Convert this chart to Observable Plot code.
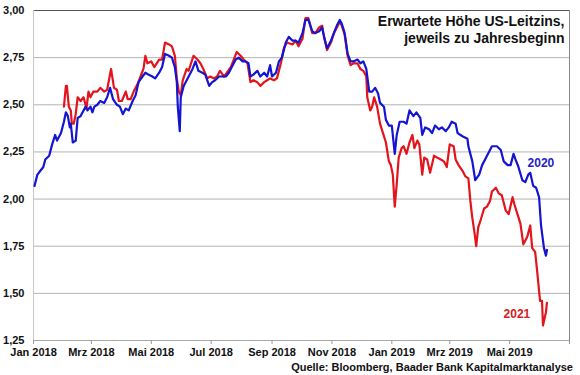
<!DOCTYPE html>
<html><head><meta charset="utf-8">
<script src="https://cdn.jsdelivr.net/npm/d3@7"></script>
<script src="https://cdn.jsdelivr.net/npm/@observablehq/plot@0.6"></script>
<style>
body{margin:0;background:#fff;}
#wrap{position:relative;width:580px;height:375px;font-family:"Liberation Sans",Arial,sans-serif;}
#caption{position:absolute;left:0;top:360px;width:573px;text-align:right;font-size:11px;font-weight:bold;line-height:14px;color:#111;}
</style></head><body>
<div id="wrap"><div id="chart"></div><div id="caption">Quelle: Bloomberg, Baader Bank Kapitalmarktanalyse</div></div>
<script>
const titleText = "Erwartete Höhe US-Leitzins,\njeweils zu Jahresbeginn";
const seriesNames = ["2020", "2021"];
const xDomain = ["2018-01-01", "2019-07-01"];
const yTicks = [1.25, 1.50, 1.75, 2.00, 2.25, 2.50, 2.75, 3.00];
const tickDates = ["2018-01-01","2018-03-01","2018-05-01","2018-07-01","2018-09-01","2018-11-01","2019-01-01","2019-03-01","2019-05-01","2019-07-01"];
const tickLabels = ["Jan 2018","Mrz 2018","Mai 2018","Jul 2018","Sep 2018","Nov 2018","Jan 2019","Mrz 2019","Mai 2019",""];

const dates2020 = ["2018-01-02","2018-01-05","2018-01-08","2018-01-11","2018-01-13","2018-01-17","2018-01-20","2018-01-23","2018-01-25","2018-01-29",
"2018-02-01","2018-02-03","2018-02-05","2018-02-07","2018-02-08","2018-02-10","2018-02-13","2018-02-15","2018-02-18","2018-02-21","2018-02-23","2018-02-25","2018-02-28",
"2018-03-02","2018-03-04","2018-03-07","2018-03-10","2018-03-14","2018-03-17","2018-03-20","2018-03-23","2018-03-27","2018-03-30",
"2018-04-02","2018-04-05","2018-04-08","2018-04-12","2018-04-15","2018-04-18","2018-04-22","2018-04-25","2018-04-28",
"2018-05-02","2018-05-05","2018-05-09","2018-05-12","2018-05-15","2018-05-19","2018-05-22","2018-05-25","2018-05-27","2018-05-28","2018-05-30","2018-05-31",
"2018-06-03","2018-06-07","2018-06-12","2018-06-15","2018-06-18","2018-06-22","2018-06-25","2018-06-29",
"2018-07-02","2018-07-05","2018-07-09","2018-07-12","2018-07-16","2018-07-19","2018-07-22","2018-07-26","2018-07-29",
"2018-08-02","2018-08-05","2018-08-08","2018-08-10","2018-08-13","2018-08-17","2018-08-20","2018-08-24","2018-08-27","2018-08-30",
"2018-09-01","2018-09-05","2018-09-08","2018-09-11","2018-09-15","2018-09-18","2018-09-22","2018-09-25","2018-09-28",
"2018-10-02","2018-10-05","2018-10-08","2018-10-12","2018-10-15","2018-10-19","2018-10-22","2018-10-24","2018-10-27","2018-10-31",
"2018-11-03","2018-11-06","2018-11-09","2018-11-11","2018-11-14","2018-11-17","2018-11-20","2018-11-23","2018-11-27","2018-11-30",
"2018-12-03","2018-12-06","2018-12-09","2018-12-12","2018-12-15","2018-12-18","2018-12-20","2018-12-24","2018-12-26","2018-12-29",
"2019-01-01","2019-01-04","2019-01-06","2019-01-09","2019-01-13","2019-01-16","2019-01-19","2019-01-23","2019-01-26","2019-01-30",
"2019-02-01","2019-02-04","2019-02-08","2019-02-11","2019-02-14","2019-02-18","2019-02-21","2019-02-25","2019-02-28",
"2019-03-03","2019-03-07","2019-03-09","2019-03-12","2019-03-15","2019-03-19","2019-03-20","2019-03-24","2019-03-27","2019-03-31",
"2019-04-03","2019-04-08","2019-04-13","2019-04-18","2019-04-22","2019-04-25","2019-04-29",
"2019-05-02","2019-05-05","2019-05-07","2019-05-10","2019-05-14","2019-05-17","2019-05-20","2019-05-22","2019-05-25","2019-05-28","2019-05-31",
"2019-06-02","2019-06-05","2019-06-07","2019-06-08"];
const values2020 = [2.07,2.13,2.15,2.17,2.21,2.23,2.29,2.34,2.31,2.35,
2.41,2.46,2.44,2.38,2.40,2.30,2.31,2.43,2.44,2.47,2.49,2.47,2.49,
2.46,2.49,2.50,2.52,2.51,2.54,2.59,2.53,2.50,2.49,
2.45,2.48,2.47,2.52,2.55,2.62,2.65,2.67,2.66,
2.65,2.64,2.67,2.70,2.77,2.76,2.75,2.70,2.62,2.49,2.36,2.54,
2.60,2.64,2.69,2.73,2.68,2.67,2.66,2.60,
2.62,2.63,2.65,2.65,2.65,2.67,2.70,2.74,2.75,
2.73,2.73,2.72,2.65,2.66,2.68,2.65,2.67,2.65,2.71,
2.65,2.67,2.73,2.75,2.83,2.86,2.84,2.84,2.83,
2.88,2.95,2.95,2.89,2.88,2.89,2.91,2.86,2.80,2.84,
2.88,2.92,2.95,2.93,2.88,2.77,2.73,2.73,2.74,2.72,
2.73,2.69,2.57,2.57,2.59,2.56,2.51,2.49,2.42,2.39,
2.39,2.24,2.34,2.41,2.41,2.40,2.47,2.44,2.46,2.43,
2.34,2.38,2.37,2.35,2.39,2.37,2.38,2.36,2.38,
2.41,2.40,2.35,2.34,2.33,2.32,2.28,2.20,2.10,2.13,
2.18,2.23,2.28,2.28,2.26,2.20,2.18,
2.18,2.24,2.21,2.17,2.10,2.09,2.13,2.14,2.07,2.06,2.01,
1.86,1.74,1.70,1.73];

const dates2021 = ["2018-02-01","2018-02-03","2018-02-04","2018-02-06","2018-02-08","2018-02-09","2018-02-11","2018-02-13","2018-02-15","2018-02-18","2018-02-21","2018-02-24","2018-02-26","2018-02-28",
"2018-03-03","2018-03-07","2018-03-10","2018-03-14","2018-03-17","2018-03-21","2018-03-24","2018-03-27","2018-03-29",
"2018-04-01","2018-04-05","2018-04-07","2018-04-10","2018-04-13","2018-04-17","2018-04-20","2018-04-23","2018-04-25","2018-04-27",
"2018-05-01","2018-05-04","2018-05-09","2018-05-12","2018-05-15","2018-05-19","2018-05-22","2018-05-25","2018-05-27","2018-05-29","2018-05-31",
"2018-06-02","2018-06-06","2018-06-08","2018-06-13","2018-06-17","2018-06-20","2018-06-23","2018-06-27","2018-06-30",
"2018-07-04","2018-07-07","2018-07-10","2018-07-14","2018-07-17","2018-07-21","2018-07-24","2018-07-27","2018-07-31",
"2018-08-03","2018-08-07","2018-08-10","2018-08-13","2018-08-17","2018-08-20","2018-08-24","2018-08-27","2018-08-30",
"2018-09-03","2018-09-06","2018-09-10","2018-09-13","2018-09-16","2018-09-22","2018-09-25","2018-09-28",
"2018-10-02","2018-10-05","2018-10-08","2018-10-12","2018-10-15","2018-10-19","2018-10-22","2018-10-24","2018-10-27","2018-10-31",
"2018-11-03","2018-11-06","2018-11-09","2018-11-11","2018-11-14","2018-11-17","2018-11-20","2018-11-23","2018-11-27","2018-11-30",
"2018-12-03","2018-12-06","2018-12-07","2018-12-10","2018-12-12","2018-12-14","2018-12-17","2018-12-20","2018-12-23","2018-12-26","2018-12-29","2018-12-31",
"2019-01-02","2019-01-04","2019-01-06","2019-01-08","2019-01-11","2019-01-13","2019-01-16","2019-01-19","2019-01-22","2019-01-24","2019-01-27","2019-01-29",
"2019-02-01","2019-02-03","2019-02-06","2019-02-09","2019-02-13","2019-02-16","2019-02-20","2019-02-23","2019-02-26",
"2019-03-01","2019-03-05","2019-03-07","2019-03-10","2019-03-14","2019-03-17","2019-03-20","2019-03-22","2019-03-24","2019-03-26","2019-03-28","2019-03-30",
"2019-04-01","2019-04-05","2019-04-08","2019-04-11","2019-04-13","2019-04-17","2019-04-20","2019-04-23","2019-04-27","2019-04-30",
"2019-05-04","2019-05-06","2019-05-09","2019-05-12","2019-05-15","2019-05-19","2019-05-22","2019-05-24","2019-05-27","2019-05-29",
"2019-06-01","2019-06-03","2019-06-04","2019-06-07","2019-06-08"];
const values2021 = [2.49,2.60,2.60,2.49,2.47,2.40,2.40,2.45,2.54,2.52,2.54,2.48,2.57,2.54,
2.57,2.57,2.59,2.57,2.58,2.69,2.59,2.58,2.52,
2.52,2.57,2.53,2.53,2.57,2.61,2.65,2.69,2.76,2.72,
2.73,2.70,2.74,2.74,2.83,2.82,2.81,2.76,2.64,2.57,2.55,
2.63,2.69,2.68,2.76,2.74,2.72,2.69,2.64,2.65,
2.64,2.65,2.68,2.65,2.67,2.70,2.74,2.78,2.76,
2.74,2.72,2.62,2.63,2.62,2.60,2.62,2.63,2.64,
2.63,2.64,2.72,2.80,2.83,2.82,2.84,2.81,
2.85,2.96,2.96,2.88,2.88,2.91,2.92,2.86,2.79,2.83,
2.88,2.91,2.94,2.92,2.87,2.76,2.71,2.72,2.72,2.69,
2.68,2.65,2.54,2.47,2.49,2.54,2.49,2.40,2.35,2.30,2.20,2.18,
2.13,1.96,2.08,2.22,2.27,2.28,2.24,2.30,2.34,2.27,2.31,2.29,
2.13,2.22,2.21,2.14,2.23,2.22,2.21,2.20,2.17,
2.29,2.28,2.21,2.18,2.15,2.12,2.11,1.99,1.90,1.83,1.75,1.85,
1.88,1.95,1.96,1.99,2.04,2.06,2.03,2.02,1.94,1.92,
2.01,1.97,1.92,1.87,1.76,1.80,1.86,1.74,1.72,1.62,
1.46,1.46,1.33,1.40,1.45];

const blue = "#1414d2", red = "#e3141b";
const parse = d3.isoParse;
const s2020 = dates2020.map((d, i) => ({date: parse(d), value: values2020[i]}));
const s2021 = dates2021.map((d, i) => ({date: parse(d), value: values2021[i]}));
const xd = xDomain.map(parse);
const fmtY = d => d.toFixed(2).replace(".", ",");

const chart = Plot.plot({
  width: 580, height: 360,
  marginLeft: 33, marginRight: 11, marginTop: 10, marginBottom: 20,
  style: {fontFamily: '"Liberation Sans", Arial, sans-serif', fontSize: "11px", fontWeight: "bold", color: "#111", background: "#fff"},
  x: {type: "utc", domain: xd},
  y: {domain: [d3.min(yTicks), d3.max(yTicks)]},
  marks: [
    Plot.gridY(yTicks, {stroke: "#b4b4b4", strokeOpacity: 1}),
    Plot.ruleY([d3.max(yTicks)], {stroke: "#555"}),
    Plot.ruleY([d3.min(yTicks)], {stroke: "#a8a8a8"}),
    Plot.ruleX([xd[0]], {stroke: "#c8c8c8"}),
    Plot.ruleX([xd[1]], {stroke: "#888"}),
    Plot.axisX({ticks: tickDates.map(parse), tickFormat: (d, i) => tickLabels[i], tickSize: 4, tickPadding: 4, stroke: "#999", fill: "#111", fontWeight: "bold", fontSize: 11, label: null}),
    Plot.axisY({ticks: yTicks, tickFormat: fmtY, tickSize: 0, tickPadding: 9, fill: "#111", fontWeight: "bold", fontSize: 11, label: null}),
    Plot.line(s2021, {x: "date", y: "value", stroke: red, strokeWidth: 2.2}),
    Plot.line(s2020, {x: "date", y: "value", stroke: blue, strokeWidth: 2.2}),
    Plot.text([s2020[s2020.length - 1]], {x: "date", y: "value", text: () => seriesNames[0], dx: -6, dy: -87, fill: "#2323c8", fontSize: 12, fontWeight: "bold"}),
    Plot.text([s2021[s2021.length - 1]], {x: "date", y: "value", text: () => seriesNames[1], dx: -30, dy: 11, fill: "#d42020", fontSize: 12, fontWeight: "bold"}),
    Plot.text([titleText], {frameAnchor: "top-right", textAnchor: "end", lineAnchor: "top", dx: -5, dy: 4, fontSize: 14, fontWeight: "bold", lineHeight: 1.18, fill: "#111"})
  ]
});
document.getElementById("chart").appendChild(chart);
</script>
</body></html>
